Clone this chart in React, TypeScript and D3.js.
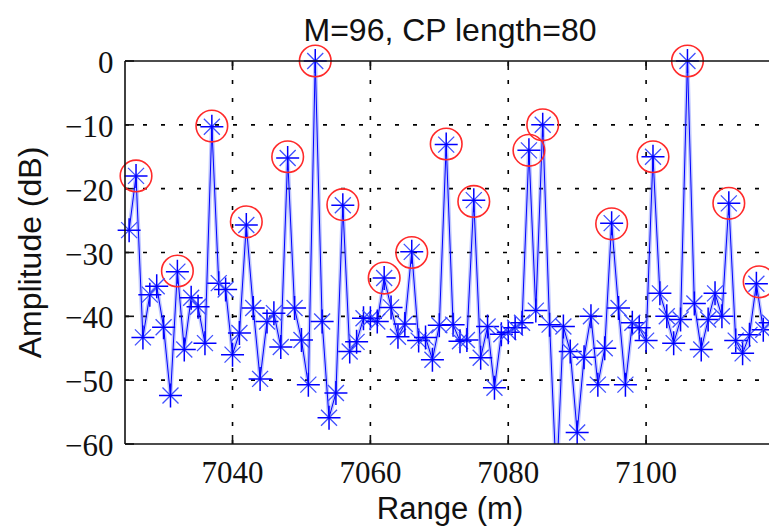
import React from "react";
import * as d3 from "d3";

const ranges = [
  7025, 7026, 7027, 7028, 7029, 7030, 7031, 7032, 7033, 7034, 7035, 7036, 7037, 7038, 7039,
  7040, 7041, 7042, 7043, 7044, 7045, 7046, 7047, 7048, 7049, 7050, 7051, 7052, 7053, 7054,
  7055, 7056, 7057, 7058, 7059, 7060, 7061, 7062, 7063, 7064, 7065, 7066, 7067, 7068, 7069,
  7070, 7071, 7072, 7073, 7074, 7075, 7076, 7077, 7078, 7079, 7080, 7081, 7082, 7083, 7084,
  7085, 7086, 7087, 7088, 7089, 7090, 7091, 7092, 7093, 7094, 7095, 7096, 7097, 7098, 7099,
  7100, 7101, 7102, 7103, 7104, 7105, 7106, 7107, 7108, 7109, 7110, 7111, 7112, 7113, 7114,
  7115, 7116, 7117, 7118,
];

const amplitudes = [
  -26.5, -18.0, -43.3, -36.6, -35.3, -41.7, -52.4, -33.0, -45.2, -37.1, -38.5, -44.2, -10.3, -34.8, -35.8,
  -46.0, -42.6, -25.7, -38.7, -49.8, -40.8, -39.5, -44.8, -15.2, -38.7, -43.7, -50.7, 0.0, -40.8, -55.9,
  -52.0, -22.6, -45.5, -44.0, -40.3, -40.3, -40.8, -34.0, -38.6, -43.2, -41.2, -29.9, -43.8, -43.3, -46.8,
  -41.4, -13.1, -41.3, -43.9, -43.7, -21.8, -46.5, -41.6, -51.2, -42.8, -42.5, -41.8, -41.0, -14.0, -39.1,
  -10.0, -41.3, -66.0, -41.6, -45.5, -58.2, -46.4, -40.0, -50.7, -45.0, -25.4, -38.7, -50.7, -41.0, -41.8,
  -43.8, -15.0, -36.4, -40.0, -44.2, -40.5, 0.0, -38.0, -45.2, -40.5, -36.4, -40.0, -22.3, -43.8, -45.8,
  -42.9, -34.9, -42.1, -41.0,
];

const targetRanges = [7026, 7032, 7037, 7042, 7048, 7052, 7056, 7062, 7066, 7071, 7075, 7083, 7085, 7095, 7101, 7106, 7112, 7116.4];
const targetAmps = [-18.0, -32.9, -10.2, -25.2, -15.0, 0.0, -22.5, -34.0, -30.0, -13.0, -22.0, -14.0, -10.0, -25.5, -15.0, 0.0, -22.3, -34.6];

const xTicks = [7040, 7060, 7080, 7100];
const yTicks = [0, -10, -20, -30, -40, -50, -60];

const titleText = "M=96, CP length=80";
const xLabel = "Range (m)";
const yLabel = "Amplitude (dB)";

const W = 769;
const H = 529;
const L = 125;
const R = 775;
const T = 61;
const B = 444;

export default function App() {
  const x = d3.scaleLinear().domain([7024.4, 7118.7]).range([L, R]);
  const y = d3.scaleLinear().domain([-60, 0]).range([B, T]);
  const pts = ranges.map((r, i) => [x(r), y(amplitudes[i])] as [number, number]);
  const line = d3.line<[number, number]>().x((d) => d[0]).y((d) => d[1]);
  const path = line(pts) || "";
  const serif = "'Liberation Serif', 'Times New Roman', serif";
  const sans = "'Liberation Sans', Arial, sans-serif";
  const tick = 9;
  const plusPath = "M-11.5,0H11.5M0,-12V12";
  const diagPath = "M-8,-8L8,8M-8,8L8,-8";

  return (
    <svg width={W} height={H} style={{ position: "absolute", left: 0, top: 0, background: "#fff" }}>
      <defs>
        <clipPath id="plotClip">
          <rect x={L} y={T} width={R - L} height={B - T} />
        </clipPath>
        <clipPath id="markClip">
          <rect x={L - 20} y={T - 30} width={R - L + 40} height={B - T + 30} />
        </clipPath>
      </defs>
      <rect x={0} y={0} width={W} height={H} fill="#fff" />

      {/* grid */}
      <g stroke="#000" strokeWidth={1.6} strokeDasharray="4 14" fill="none">
        {yTicks.filter((v) => v !== 0 && v !== -60).map((v) => (
          <line key={"gy" + v} x1={L} x2={R} y1={y(v)} y2={y(v)} />
        ))}
        {xTicks.map((v) => (
          <line key={"gx" + v} x1={x(v)} x2={x(v)} y1={B} y2={T} />
        ))}
      </g>

      {/* ticks */}
      <g stroke="#111" strokeWidth={1.6}>
        {yTicks.map((v) => (
          <line key={"ty" + v} x1={L} x2={L + tick} y1={y(v)} y2={y(v)} />
        ))}
        {xTicks.map((v) => (
          <g key={"tx" + v}>
            <line x1={x(v)} x2={x(v)} y1={B} y2={B - tick} />
            <line x1={x(v)} x2={x(v)} y1={T} y2={T + tick} />
          </g>
        ))}
      </g>

      {/* data line */}
      <g clipPath="url(#plotClip)" fill="none">
        <path d={path} stroke="rgba(80,100,255,0.35)" strokeWidth={4} strokeLinejoin="round" />
        <path d={path} stroke="#0000ff" strokeWidth={1} strokeLinejoin="round" />
      </g>

      {/* target circles */}
      <g fill="none" stroke="#ff2a2a" strokeWidth={1.6}>
        {targetRanges.map((r, i) => (
          <circle key={"c" + i} cx={x(r)} cy={y(targetAmps[i])} r={15.8} />
        ))}
      </g>

      {/* star markers */}
      <g clipPath="url(#markClip)" fill="none">
        {pts.map((p, i) => (
          <g key={"s" + i} transform={`translate(${p[0]},${p[1]})`}>
            <path d={diagPath} stroke="#4050ff" strokeWidth={1.3} />
            <path d={plusPath} stroke="#0000ff" strokeWidth={1.5} />
          </g>
        ))}
      </g>

      {/* frame */}
      <g stroke="#111" strokeWidth={1.6} fill="none">
        <line x1={L} x2={R} y1={T} y2={T} />
        <line x1={L} x2={R} y1={B} y2={B} />
        <line x1={L} x2={L} y1={T} y2={B} />
      </g>

      {/* tick labels */}
      <g fontFamily={serif} fontSize={31} fill="#111">
        {yTicks.map((v) => (
          <text key={"ly" + v} x={113.5} y={y(v) + 12} textAnchor="end">
            {v < 0 ? "\u2212" + Math.abs(v) : String(v)}
          </text>
        ))}
        {xTicks.map((v) => (
          <text key={"lx" + v} x={x(v)} y={483} textAnchor="middle">
            {String(v)}
          </text>
        ))}
      </g>

      {/* labels */}
      <text x={450} y={41} textAnchor="middle" fontFamily={sans} fontSize={32} fill="#111">
        {titleText}
      </text>
      <text x={450} y={519} textAnchor="middle" fontFamily={sans} fontSize={31} fill="#111">
        {xLabel}
      </text>
      <text
        transform={`translate(41,${(T + B) / 2}) rotate(-90)`}
        textAnchor="middle"
        fontFamily={sans}
        fontSize={32}
        fill="#111"
      >
        {yLabel}
      </text>
    </svg>
  );
}
